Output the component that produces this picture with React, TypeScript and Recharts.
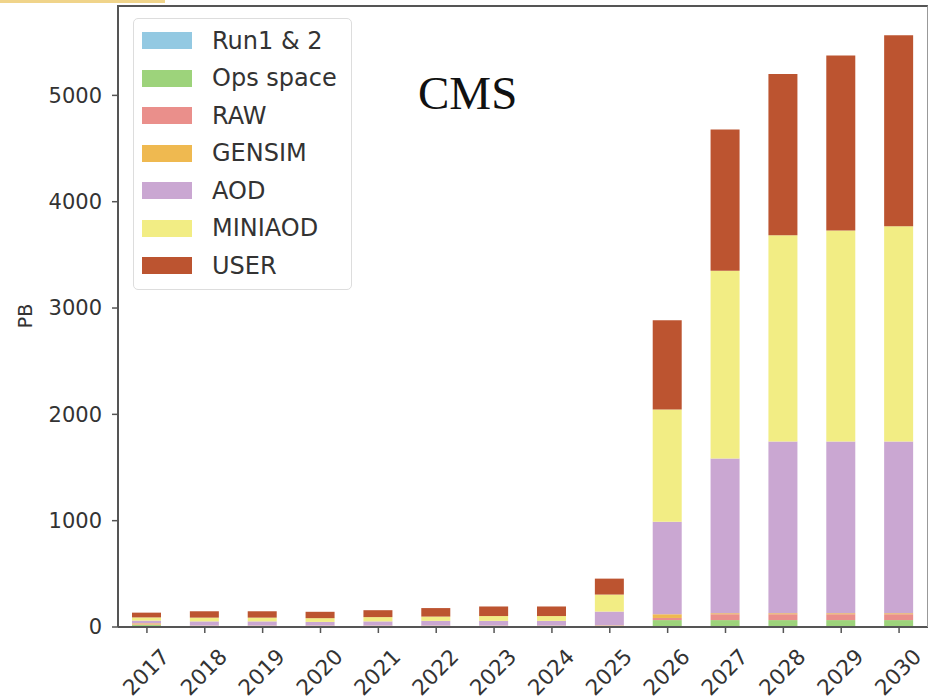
import React from 'react'
import { BarChart, Bar, XAxis, YAxis } from 'recharts'

const years = ['2017', '2018', '2019', '2020', '2021', '2022', '2023', '2024', '2025', '2026', '2027', '2028', '2029', '2030']
const run12 = [10, 0, 0, 0, 0, 0, 0, 0, 0, 0, 0, 0, 0, 0]
const opsSpace = [10, 3, 3, 3, 3, 3, 3, 3, 5, 65, 65, 65, 65, 65]
const raw = [5, 5, 5, 5, 5, 5, 5, 5, 5, 20, 55, 55, 55, 55]
const gensim = [10, 5, 5, 5, 5, 5, 5, 5, 5, 35, 10, 10, 10, 10]
const aod = [25, 40, 40, 35, 40, 45, 45, 45, 130, 870, 1455, 1615, 1615, 1615]
const miniaod = [30, 35, 35, 35, 40, 40, 45, 45, 160, 1055, 1765, 1940, 1985, 2025]
const user = [45, 60, 60, 60, 65, 80, 90, 90, 150, 840, 1330, 1515, 1645, 1795]
const yTicks = [0, 1000, 2000, 3000, 4000, 5000]

const series = [
  { key: 'run12', name: 'Run1 & 2', color: '#93c9e2', values: run12 },
  { key: 'ops', name: 'Ops space', color: '#9dd37b', values: opsSpace },
  { key: 'raw', name: 'RAW', color: '#ea8f8b', values: raw },
  { key: 'gensim', name: 'GENSIM', color: '#efb950', values: gensim },
  { key: 'aod', name: 'AOD', color: '#caa7d2', values: aod },
  { key: 'miniaod', name: 'MINIAOD', color: '#f2ed84', values: miniaod },
  { key: 'user', name: 'USER', color: '#bc5430', values: user },
]

const data = years.map((year, i) => {
  const row: Record<string, string | number> = { year }
  series.forEach(s => { row[s.key] = s.values[i] })
  return row
})

const FONT = '"DejaVu Sans", sans-serif'

function YearTick({ x, y, payload }: any) {
  return (
    <g transform={`translate(${x - 1},${y + 37}) rotate(-45)`}>
      <text textAnchor="middle" dominantBaseline="central" fill="#333" fontSize={21.5} fontFamily={FONT}>
        {payload.value}
      </text>
    </g>
  )
}

function PbLabel({ viewBox }: any) {
  const cx = viewBox.x + 25
  const cy = viewBox.y + viewBox.height / 2
  return (
    <text x={cx} y={cy} transform={`rotate(-90 ${cx} ${cy})`} textAnchor="middle" dominantBaseline="central"
      fill="#333" fontSize={19} fontFamily={FONT}>
      PB
    </text>
  )
}

function LegendBox() {
  return (
    <div style={{
      position: 'absolute', left: 133, top: 18, width: 219, height: 272,
      border: '1px solid #ddd', borderRadius: 5, background: 'rgba(255,255,255,0.85)',
      boxSizing: 'border-box', paddingTop: 3, paddingLeft: 8, fontFamily: FONT,
    }}>
      {series.map(s => (
        <div key={s.key} style={{ display: 'flex', alignItems: 'center', height: 37.5 }}>
          <div style={{ width: 50, height: 17, background: s.color }} />
          <span style={{ marginLeft: 20, fontSize: 24, color: '#333', lineHeight: 1 }}>{s.name}</span>
        </div>
      ))}
    </div>
  )
}

export default function App() {
  return (
    <div style={{ position: 'absolute', left: 0, top: 0, width: 931, height: 699, background: '#fff', overflow: 'hidden' }}>
      <div style={{ position: 'absolute', left: 0, top: 0, width: 165, height: 3, background: '#f0d48a' }} />
      <BarChart width={931} height={699} data={data} margin={{ top: 5, right: 3, bottom: 0, left: 0 }} barCategoryGap={0}>
        <XAxis
          dataKey="year"
          height={72}
          tick={<YearTick />}
          tickSize={6}
          interval={0}
          axisLine={{ stroke: '#555', strokeWidth: 2 }}
          tickLine={{ stroke: '#555', strokeWidth: 1.5 }}
        />
        <YAxis
          width={118}
          domain={[0, 5850]}
          ticks={yTicks}
          tickSize={6}
          tickMargin={10}
          tick={{ fill: '#333', fontSize: 21, fontFamily: FONT }}
          axisLine={{ stroke: '#555', strokeWidth: 2 }}
          tickLine={{ stroke: '#555', strokeWidth: 1.5 }}
          label={<PbLabel />}
        />
        {series.map(s => (
          <Bar key={s.key} dataKey={s.key} name={s.name} stackId="a" fill={s.color} barSize={29} isAnimationActive={false} />
        ))}
      </BarChart>
      <div style={{
        position: 'absolute', left: 118, top: 5, width: 810, height: 622,
        borderTop: '2px solid #555', borderRight: '1.5px solid #999', boxSizing: 'border-box', pointerEvents: 'none',
      }} />
      <LegendBox />
      <div style={{
        position: 'absolute', left: 418, top: 70, fontFamily: '"Liberation Serif", serif',
        fontSize: 47, color: '#111', lineHeight: 1,
      }}>
        CMS
      </div>
    </div>
  )
}
